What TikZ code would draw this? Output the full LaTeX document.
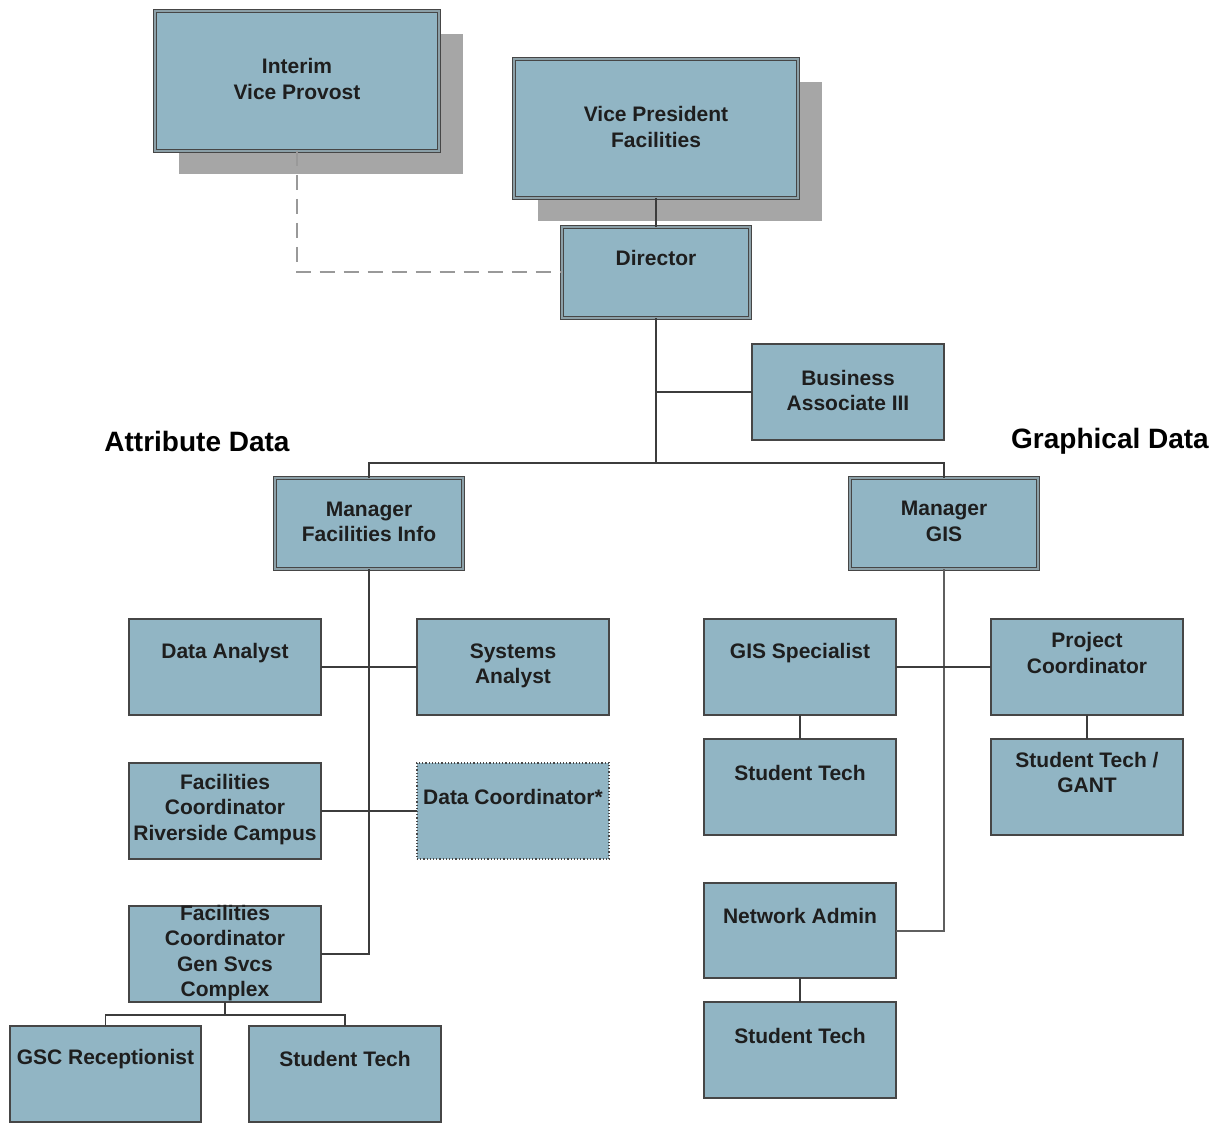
\documentclass[tikz,border=0pt]{standalone}
\usepackage{fontspec}
\setmainfont{Liberation Sans}
\usetikzlibrary{shadows}
\definecolor{boxfill}{RGB}{145,181,196}
\definecolor{bord}{RGB}{70,70,70}
\definecolor{gapcol}{RGB}{140,160,168}
\definecolor{shgray}{RGB}{166,166,166}
\definecolor{txtcol}{RGB}{30,30,30}
\definecolor{linecol}{RGB}{60,60,60}
\definecolor{trunkgray}{RGB}{95,95,95}
\begin{document}
\begin{tikzpicture}[x=1pt,y=-1pt,
  box/.style={rectangle, fill=boxfill, draw=bord, line width=1.2pt, inner sep=0pt, outer sep=0pt,
    minimum width=192pt, minimum height=96pt},
  dbox/.style={box, draw=bord, line width=1.1pt, double=gapcol, double distance=2.6pt},
  shbox/.style={general shadow={fill=shgray, draw=none, shadow xshift=24pt, shadow yshift=-23pt}},
  dotbox/.style={box, draw=bord, dotted, line width=1.4pt},
  txt/.style={align=center, text=txtcol, inner sep=0pt, font=\fontsize{21}{25.5}\selectfont\bfseries},
  head/.style={text=black, inner sep=0pt, font=\fontsize{28}{32}\selectfont\bfseries},
  conn/.style={draw=linecol, line width=1.5pt},
  trunk/.style={draw=linecol, line width=2pt},
  trunkr/.style={draw=trunkgray, line width=2pt},
  dashline/.style={draw=gray!80, line width=2pt, dash pattern=on 15pt off 9pt}
]
\useasboundingbox (0,0) rectangle (1223,1123);

% top boxes
\node[dbox, shbox, minimum width=284pt, minimum height=140pt] (ivp) at (297,81) {};
\node[txt] (ivpt) at (297,79) {Interim\\Vice Provost};
\node[dbox, shbox, minimum width=284pt, minimum height=139pt] (vpf) at (656,128.5) {};
\node[txt] (vpft) at (656,127) {Vice President\\Facilities};
\node[dbox, minimum width=188pt, minimum height=91pt] (dir) at (656,272.5) {};
\node[txt] (dirt) at (656,258) {Director};
\node[box] (ba) at (848,392) {};
\node[txt] (bat) at (848,390.5) {Business\\Associate III};

% headings
\node[head] (attr) at (197,441) {Attribute Data};
\node[head] (graph) at (1110,441) {Graphical Data};

% managers
\node[dbox, minimum width=188pt, minimum height=91pt] (mfi) at (369,523.5) {};
\node[txt] (mfit) at (369,522) {Manager\\Facilities Info};
\node[dbox, minimum width=188pt, minimum height=91pt] (mgis) at (944,523.5) {};
\node[txt] (mgist) at (944,521.5) {Manager\\GIS};

% left branch
\node[box] (da) at (225,667) {};
\node[txt] (dat) at (225,653) {Data Analyst};
\node[box] (sa) at (513,667) {};
\node[txt] (sat) at (513,666) {Systems\\Analyst};
\node[box] (fcr) at (225,811) {};
\node[txt] (fcrt) at (225,809.5) {Facilities\\Coordinator\\Riverside Campus};
\node[dotbox] (dc) at (513,811) {};
\node[txt] (dct) at (513,797) {Data Coordinator*};
\node[box] (fcg) at (225,954) {};
\node[txt] (fcgt) at (225,953) {Facilities\\Coordinator\\Gen Svcs\\Complex};
\node[box, minimum width=191pt] (gsc) at (105.5,1074) {};
\node[txt] (gsct) at (105.5,1059) {GSC Receptionist};
\node[box] (st1) at (345,1074) {};
\node[txt] (st1t) at (345,1059) {Student Tech};

% right branch
\node[box] (gis) at (800,667) {};
\node[txt] (gist) at (800,653) {GIS Specialist};
\node[box] (pc) at (1087,667) {};
\node[txt] (pct) at (1087,653) {Project\\Coordinator};
\node[box] (st2) at (800,787) {};
\node[txt] (st2t) at (800,773) {Student Tech};
\node[box] (stg) at (1087,787) {};
\node[txt] (stgt) at (1087,772.5) {Student Tech /\\GANT};
\node[box, minimum height=95pt] (na) at (800,930.5) {};
\node[txt] (nat) at (800,916) {Network Admin};
\node[box] (st3) at (800,1050) {};
\node[txt] (st3t) at (800,1036) {Student Tech};

% connectors
\coordinate (bar) at (656,463);
\coordinate (fcgj) at (225,1015);
\draw[dashline] (ivp.south) |- (dir.west);
\draw[conn] (vpf.south) -- (dir.north);
\draw[conn] (dir.south) -- (bar);
\draw[conn] (ba.west) -- (ba.west -| bar);
\draw[conn] (mfi.north) |- (bar) -| (mgis.north);
\draw[trunk] (mfi.south) |- (fcg.east);
\draw[conn] (da.east) -- (sa.west);
\draw[conn] (fcr.east) -- (dc.west);
\draw[conn] (fcg.south) -- (fcgj);
\draw[conn] (gsc.north) |- (fcgj) -| (st1.north);
\draw[trunkr] (mgis.south) |- (na.east);
\draw[conn] (gis.east) -- (pc.west);
\draw[conn] (gis.south) -- (st2.north);
\draw[conn] (pc.south) -- (stg.north);
\draw[conn] (na.south) -- (st3.north);
\end{tikzpicture}
\end{document}
